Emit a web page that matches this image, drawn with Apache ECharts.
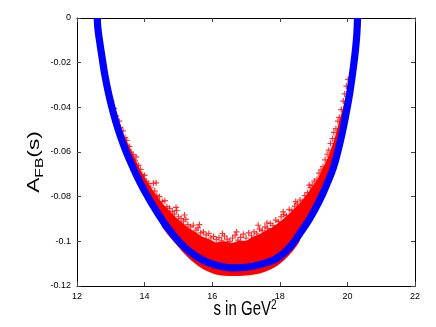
<!DOCTYPE html>
<html>
<head>
<meta charset="utf-8">
<script src="https://cdn.jsdelivr.net/npm/echarts@6/dist/echarts.min.js"></script>
<style>
html,body{margin:0;padding:0;background:#fff;}
#c{width:436px;height:327px;}
</style>
</head>
<body>
<div id="c"></div>
<script>
// ---- data ----
const xTicks = [12, 14, 16, 18, 20, 22];
const xTickLabels = ['12', '14', '16', '18', '20', '22'];
const yTicks = [0, -0.02, -0.04, -0.06, -0.08, -0.1, -0.12];
const yTickLabels = ['0', '-0.02', '-0.04', '-0.06', '-0.08', '-0.1', '-0.12'];

// blue band (centre line)
const blueS = [12.60, 12.62, 12.68, 12.75, 12.83, 12.93, 13.05, 13.20, 13.38, 13.57, 13.78, 14.03, 14.25, 14.50, 14.80, 15.17, 15.58, 15.93, 16.29, 16.59, 17.00, 17.51, 17.92, 18.30, 18.57, 18.89, 19.16, 19.39, 19.58, 19.73, 19.86, 19.97, 20.07, 20.16, 20.24, 20.28, 20.30];
const blueA = [0, -0.0050, -0.0115, -0.0185, -0.0260, -0.0335, -0.0410, -0.0490, -0.0570, -0.0640, -0.0710, -0.0783, -0.0840, -0.0900, -0.0962, -0.1025, -0.1072, -0.1098, -0.1113, -0.1119, -0.1116, -0.1100, -0.1075, -0.1025, -0.0970, -0.0897, -0.0822, -0.0745, -0.0672, -0.0590, -0.0505, -0.0420, -0.0335, -0.0240, -0.0140, -0.0070, 0];

// inner (upper) edge of the dense red cloud
const redEdgeS = [13.00, 13.20, 13.40, 13.65, 13.90, 14.20, 14.50, 14.75, 14.90, 15.10, 15.30, 15.50, 15.70, 15.90, 16.10, 16.35, 16.60, 16.80, 17.00, 17.20, 17.40, 17.60, 17.80, 18.00, 18.20, 18.40, 18.60, 18.80, 18.95, 19.10, 19.25, 19.40, 19.50, 19.60, 19.70, 19.80, 19.88, 20.02];
const redEdgeA = [-0.0372, -0.0455, -0.0528, -0.0608, -0.0688, -0.0762, -0.0825, -0.0866, -0.0890, -0.0915, -0.0940, -0.0958, -0.0978, -0.0990, -0.1005, -0.1000, -0.1008, -0.0996, -0.0998, -0.0980, -0.0968, -0.0950, -0.0936, -0.0912, -0.0888, -0.0858, -0.0830, -0.0790, -0.0758, -0.0726, -0.0680, -0.0632, -0.0592, -0.0550, -0.0495, -0.0440, -0.0395, -0.0300];

// lower edge of the red cloud (below the blue band, bottom part only)
const redLowS = [14.50, 14.90, 15.30, 15.70, 16.10, 16.60, 17.10, 17.50, 17.90, 18.30, 18.60];
const redLowA = [-0.0930, -0.1008, -0.1075, -0.1122, -0.1148, -0.1155, -0.1152, -0.1140, -0.1112, -0.1058, -0.0995];

// scattered red points along the cloud's ragged edge
const redS = [13.02, 13.10, 13.16, 13.25, 13.28, 13.36, 13.42, 13.47, 13.55, 13.60, 13.66, 13.72, 13.75, 13.82, 13.88, 13.92, 14.00, 14.05, 14.12, 14.18, 14.26, 14.30, 14.36, 14.44, 14.52, 14.60, 14.66, 14.74, 14.82, 14.88, 14.95, 15.00, 15.08, 15.15, 15.22, 15.28, 15.36, 15.44, 15.52, 15.58, 15.66, 15.74, 15.82, 15.90, 15.96, 16.04, 16.12, 16.20, 16.28, 16.36, 16.44, 16.52, 16.60, 16.68, 16.76, 16.84, 16.92, 17.00, 17.08, 17.16, 17.24, 17.32, 17.40, 17.48, 17.56, 17.64, 17.72, 17.80, 17.88, 17.96, 18.04, 18.12, 18.20, 18.28, 18.36, 18.44, 18.52, 18.60, 18.68, 18.74, 18.82, 18.90, 18.96, 19.02, 19.10, 19.16, 19.22, 19.28, 19.34, 19.40, 19.45, 19.50, 19.56, 19.60, 19.66, 19.72, 19.76, 19.82, 19.88, 19.92, 19.97, 20.02,
  14.34, 14.93, 15.18, 15.62, 16.30, 16.72, 17.36, 17.62, 18.10, 18.47, 18.87];
const redA = [-0.0372, -0.0405, -0.0438, -0.0462, -0.0490, -0.0505, -0.0535, -0.0548, -0.0575, -0.0600, -0.0612, -0.0640, -0.0622, -0.0660, -0.0678, -0.0700, -0.0705, -0.0730, -0.0742, -0.0760, -0.0740, -0.0775, -0.0795, -0.0800, -0.0822, -0.0818, -0.0845, -0.0852, -0.0866, -0.0878, -0.0862, -0.0890, -0.0898, -0.0910, -0.0902, -0.0925, -0.0935, -0.0928, -0.0950, -0.0940, -0.0962, -0.0958, -0.0972, -0.0965, -0.0985, -0.0978, -0.0992, -0.0983, -0.0998, -0.0976, -0.0990, -0.1000, -0.0985, -0.0972, -0.0995, -0.0982, -0.0968, -0.0985, -0.0962, -0.0975, -0.0958, -0.0966, -0.0945, -0.0952, -0.0935, -0.0942, -0.0920, -0.0930, -0.0905, -0.0912, -0.0890, -0.0880, -0.0885, -0.0858, -0.0862, -0.0842, -0.0832, -0.0815, -0.0820, -0.0795, -0.0782, -0.0760, -0.0748, -0.0730, -0.0722, -0.0695, -0.0680, -0.0665, -0.0635, -0.0610, -0.0592, -0.0562, -0.0540, -0.0512, -0.0495, -0.0462, -0.0445, -0.0410, -0.0372, -0.0340, -0.0305, -0.0275,
  -0.0738, -0.0848, -0.0882, -0.0925, -0.0965, -0.0958, -0.0928, -0.0918, -0.0868, -0.0822, -0.0748];

// ---- build series data from the arrays ----
const zip = (a, b) => a.map((v, i) => [v, b[i]]);
const bluePts = zip(blueS, blueA);
const redPts = zip(redS, redA);
const edgePts = zip(redEdgeS, redEdgeA);
const lowPts = zip(redLowS, redLowA);
const upperPoly = edgePts.concat(bluePts.filter(p => p[0] > 12.95 && p[0] < 20.05).reverse());
const lowerPoly = bluePts.filter(p => p[0] > 14.45 && p[0] < 18.65).concat(lowPts.slice().reverse());

const plus = 'path://M2,0H3V2H5V3H3V5H2V3H0V2H2Z';
const FONT = 'Liberation Sans, Arial, sans-serif';

const chart = echarts.init(document.getElementById('c'), null, {renderer: 'canvas'});
const tickStyle = {show: true, inside: true, length: 4, lineStyle: {color: '#444'}};
const lineStyleAx = {show: true, onZero: false, lineStyle: {color: '#000', width: 1}};
chart.setOption({
  animation: false,
  backgroundColor: '#fff',
  grid: {left: 77, right: 21, top: 18, bottom: 41, containLabel: false},
  xAxis: [
    {
      type: 'value', min: 12, max: 22, interval: 2, position: 'bottom',
      splitLine: {show: false}, axisLine: lineStyleAx, axisTick: tickStyle,
      axisLabel: {show: true, margin: 6, fontFamily: FONT, fontSize: 9, color: '#000',
        formatter: v => xTickLabels[xTicks.indexOf(Math.round(v))]}
    },
    {
      type: 'value', min: 12, max: 22, interval: 2, position: 'top',
      splitLine: {show: false}, axisLine: lineStyleAx, axisTick: tickStyle,
      axisLabel: {show: false}
    }
  ],
  yAxis: [
    {
      type: 'value', min: -0.12, max: 0, interval: 0.02, position: 'left',
      splitLine: {show: false}, axisLine: lineStyleAx, axisTick: tickStyle,
      axisLabel: {show: true, margin: 6, fontFamily: FONT, fontSize: 9, color: '#000',
        formatter: v => yTickLabels[Math.round(-v / 0.02)]}
    },
    {
      type: 'value', min: -0.12, max: 0, interval: 0.02, position: 'right',
      splitLine: {show: false}, axisLine: lineStyleAx, axisTick: tickStyle,
      axisLabel: {show: false}
    }
  ],
  series: [
    {
      type: 'custom',
      coordinateSystem: 'cartesian2d',
      data: [edgePts[0]],
      renderItem: function (params, api) {
        return {
          type: 'group',
          children: [
            {type: 'polygon', shape: {points: upperPoly.map(p => api.coord(p))}, style: {fill: '#ff0000'}},
            {type: 'polygon', shape: {points: lowerPoly.map(p => api.coord(p)), smooth: 0.3}, style: {fill: '#ff0000'}}
          ]
        };
      },
      z: 1, silent: true
    },
    {
      type: 'scatter', data: redPts, symbol: plus, symbolSize: 6,
      itemStyle: {color: '#ff0000', opacity: 0.8}, z: 3, silent: true
    },
    {
      type: 'line', data: bluePts, smooth: true, showSymbol: false,
      lineStyle: {color: '#0000ff', width: 7.2}, z: 4, silent: true
    }
  ],
  graphic: [
    {
      type: 'text', x: 245, y: 309, scaleY: 1.4, z: 10,
      style: {
        text: '{a|s in GeV}{b|2}',
        align: 'center', verticalAlign: 'middle',
        rich: {
          a: {fontFamily: FONT, fontSize: 15, fill: '#000', lineHeight: 16, verticalAlign: 'bottom'},
          b: {fontFamily: FONT, fontSize: 10, fill: '#000', lineHeight: 10, verticalAlign: 'top', padding: [0, 0, 7, 0]}
        }
      }
    },
    {
      type: 'text', x: 36, y: 162, rotation: Math.PI / 2, scaleX: 1.42, z: 10,
      style: {
        text: '{a|A}{s|FB}{a|(s)}',
        align: 'center', verticalAlign: 'middle',
        rich: {
          a: {fontFamily: FONT, fontSize: 16, fill: '#000', lineHeight: 18, verticalAlign: 'top'},
          s: {fontFamily: FONT, fontSize: 11, fill: '#000', lineHeight: 11, verticalAlign: 'bottom', padding: [9, 0, 0, 0]}
        }
      }
    }
  ]
});
</script>
</body>
</html>
